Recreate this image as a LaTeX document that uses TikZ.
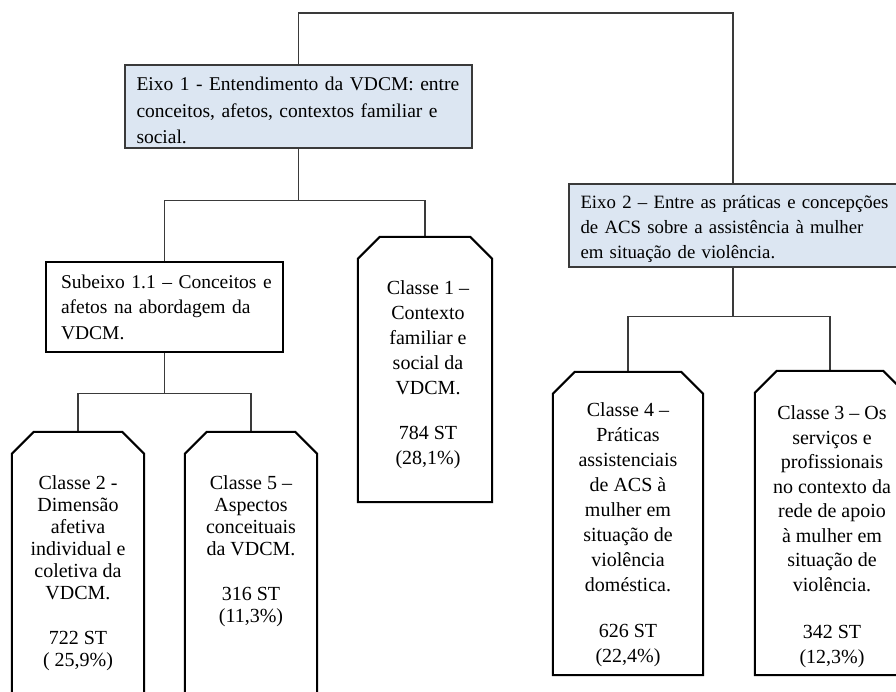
\documentclass[tikz,border=0pt]{standalone}
\usepackage{fontspec}
\setmainfont{Liberation Serif}
\usetikzlibrary{calc}
\definecolor{boxblue}{HTML}{DCE6F2}
\definecolor{linegray}{HTML}{3A3A3A}
\newcommand{\jl}[2]{\makebox[#1][s]{#2}}
\newcommand{\chamfbox}[1]{%
  \draw[chline] (#1.south west) -- ($(#1.north west)+(0,22)$) -- ($(#1.north west)+(22,0)$)
    -- ($(#1.north east)+(-22,0)$) -- ($(#1.north east)+(0,22)$) -- (#1.south east) -- cycle;}
\tikzset{
  conn/.style={draw=linegray, line width=1.3pt},
  axisbox/.style={draw=linegray, line width=1.5pt, fill=boxblue, inner ysep=0pt, align=left},
  subbox/.style={draw=black, line width=1.4pt, fill=white, inner ysep=0pt, align=left},
  frame/.style={draw=none, inner sep=0pt},
  chline/.style={draw=black, line width=2pt, fill=white, line join=miter},
  classtext/.style={align=center, inner sep=0pt, anchor=north},
}
\begin{document}
\begin{tikzpicture}[x=1pt,y=-1pt]
\useasboundingbox (0,0) rectangle (896,691);
\clip (0,0) rectangle (896,691);

% axis boxes
\node[axisbox, text width=324pt, inner xsep=11.5pt, minimum height=83pt,
      font=\fontsize{19.5}{26.5}\selectfont] (e1) at (298.5,106.5)
  {\rule{0pt}{21.5pt}\jl{324pt}{Eixo 1 - Entendimento da VDCM: entre}\\
   \jl{324pt}{conceitos, afetos, contextos familiar e}\\
   social.};
\node[axisbox, text width=305pt, inner xsep=11.5pt, minimum height=83pt,
      font=\fontsize{18.8}{25}\selectfont] (e2) at (733,225.5)
  {\rule{0pt}{19.5pt}\jl{305pt}{Eixo 2 – Entre as práticas e concepções}\\
   \jl{305pt}{de ACS sobre a assistência à mulher}\\
   em situação de violência.};
\node[subbox, text width=207pt, inner xsep=15pt, minimum height=90pt,
      font=\fontsize{19.5}{25.5}\selectfont] (sub) at (164.5,307)
  {\jl{207pt}{Subeixo 1.1 – Conceitos e}\\
   \jl{207pt}{afetos na abordagem da}\\
   VDCM.};

% class frames
\node[frame, minimum width=134pt, minimum height=265pt] (c1) at (425,369.5) {};
\node[frame, minimum width=132pt, minimum height=278pt] (c2) at (78,571) {};
\node[frame, minimum width=132pt, minimum height=278pt] (c5) at (251,571) {};
\node[frame, minimum width=150pt, minimum height=303pt] (c4) at (628,523.5) {};
\node[frame, minimum width=150pt, minimum height=304pt] (c3) at (830,523) {};

% connectors
\coordinate (j0) at (515,13);
\draw[conn] (e1.north) |- (j0) -| (e2.north);
\path (e1.south) ++(0,52) coordinate (j1);
\draw[conn] (e1.south) -- (j1);
\draw[conn] (sub.north) |- (j1) -| (c1.north);
\path (sub.south) ++(0,41) coordinate (j2);
\draw[conn] (sub.south) -- (j2);
\draw[conn] (c2.north) |- (j2) -| (c5.north);
\path (e2.south) ++(0,49) coordinate (j3);
\draw[conn] (e2.south) -- (j3);
\draw[conn] (c4.north) |- (j3) -| (c3.north);

% chamfered outlines
\chamfbox{c1}
\chamfbox{c2}
\chamfbox{c5}
\chamfbox{c4}
\chamfbox{c3}

% class texts
\node[classtext, font=\fontsize{20}{25}\selectfont] (t1) at ($(c1.north)+(3,44)$)
  {Classe 1 –\\Contexto\\familiar e\\social da\\VDCM.\\[20pt]784 ST\\(28,1\%)};
\node[classtext, font=\fontsize{20}{22}\selectfont] (t2) at ($(c2.north)+(0,44)$)
  {Classe 2 -\\Dimensão\\afetiva\\individual e\\coletiva da\\VDCM.\\[23pt]722 ST\\( 25,9\%)};
\node[classtext, font=\fontsize{20}{22}\selectfont] (t5) at ($(c5.north)+(0,44)$)
  {Classe 5 –\\Aspectos\\conceituais\\da VDCM.\\[23pt]316 ST\\(11,3\%)};
\node[classtext, font=\fontsize{20}{25}\selectfont] (t4) at ($(c4.north)+(0,31)$)
  {Classe 4 –\\Práticas\\assistenciais\\de ACS à\\mulher em\\situação de\\violência\\doméstica.\\[21pt]626 ST\\(22,4\%)};
\node[classtext, font=\fontsize{20}{24.5}\selectfont] (t3) at ($(c3.north)+(2,35)$)
  {Classe 3 – Os\\serviços e\\profissionais\\no contexto da\\rede de apoio\\à mulher em\\situação de\\violência.\\[23pt]342 ST\\(12,3\%)};
\end{tikzpicture}
\end{document}
